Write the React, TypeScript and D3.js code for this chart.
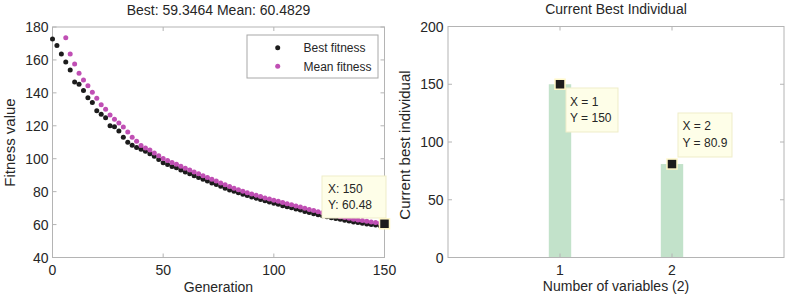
import React from "react";
import * as d3 from "d3";

const bestGenerations = d3.range(0, 151, 2);
const bestFitness = [
  172.7, 168.7, 163.6, 158.7, 153.9, 146.6, 145.2, 141.5, 137.1, 134.2,
  129.2, 127.0, 124.9, 120.0, 119.4, 116.8, 113.0, 110.0, 108.2, 106.8,
  105.8, 104.5, 103.0, 101.5, 99.5, 97.6, 96.5, 95.3, 94.5, 93.2,
  92.0, 90.8, 89.6, 88.6, 87.5, 86.4, 85.3, 84.3, 83.2, 82.1,
  81.0, 80.2, 79.3, 78.4, 77.6, 76.8, 76.0, 75.3, 74.5, 73.7,
  73.0, 72.3, 71.5, 70.8, 70.2, 69.5, 68.8, 67.9, 67.3, 66.6,
  66.0, 65.3, 64.8, 64.2, 63.7, 63.2, 62.6, 62.1, 61.6, 61.2,
  60.8, 60.4, 60.0, 59.7, 59.5, 59.35,
];
const meanGenerations = d3.range(6, 151, 2);
const meanFitness = [
  173.5, 163.6, 157.5, 151.9, 147.8, 144.3, 140.3, 136.7, 132.8, 130.0,
  126.5, 123.9, 121.7, 119.2, 116.2, 113.0, 110.6, 108.1, 106.5, 105.3,
  103.5, 101.8, 100.2, 98.9, 97.7, 96.6, 95.4, 94.2, 93.1, 91.9,
  90.8, 89.7, 88.6, 87.5, 86.4, 85.3, 84.2, 83.1, 82.1, 81.2,
  80.3, 79.4, 78.6, 77.8, 77.0, 76.2, 75.5, 74.8, 74.1, 73.4,
  72.7, 72.0, 71.3, 70.6, 69.9, 69.2, 68.5, 67.8, 67.2, 66.6,
  66.0, 65.4, 64.8, 64.3, 63.8, 63.3, 62.8, 62.4, 62.0, 61.6,
  61.2, 60.8, 60.48,
];
const leftXTicks = [0, 50, 100, 150];
const leftYTicks = [40, 60, 80, 100, 120, 140, 160, 180];
const leftTip = { x: 150, y: 60.48, lines: ["X: 150", "Y: 60.48"] };

const variables = [1, 2];
const individualValues = [150, 80.9];
const individualTips = [
  ["X = 1", "Y = 150"],
  ["X = 2", "Y = 80.9"],
];
const rightXTicks = [1, 2];
const rightYTicks = [0, 50, 100, 150, 200];

const FONT = "'Liberation Sans', Arial, sans-serif";
const AX = "#b4b4b4";
const TXT = "#262626";
const TIPFILL = "#fefee8";
const TIPSTROKE = "#efedc9";
const DOT_R = 2.5;

function Box({ x0, x1, y0, y1 }: { x0: number; x1: number; y0: number; y1: number }) {
  return (
    <rect x={x0} y={y0} width={x1 - x0} height={y1 - y0} fill="none" stroke={AX} strokeWidth={1} />
  );
}

export default function App() {
  const lx = d3.scaleLinear().domain([0, 150]).range([52.5, 384.5]);
  const ly = d3.scaleLinear().domain([40, 180]).range([257.5, 27]);
  const rx = d3.scaleLinear().domain([0, 3]).range([448, 784]);
  const ry = d3.scaleLinear().domain([0, 200]).range([257.5, 26.5]);
  const barW = rx(0.2) - rx(0);
  const tl = 4;

  const tipBoxesRight = [
    { x: 566, y: 88, w: 52, h: 44, tx: 570, ty1: 105.5, ty2: 121.5 },
    { x: 678, y: 113, w: 54, h: 44, tx: 682.5, ty1: 130, ty2: 146.5 },
  ];

  return (
    <svg width={787} height={299} style={{ position: "absolute", left: 0, top: 0, fontFamily: FONT }}>
      <rect width={787} height={299} fill="#fff" />
      {/* LEFT PANEL */}
      <text x={(lx(0) + lx(150)) / 2} y={15} textAnchor="middle" fontSize={14} fill={TXT}>
        Best: 59.3464 Mean: 60.4829
      </text>
      <Box x0={lx(0)} x1={lx(150)} y0={ly(180)} y1={ly(40)} />
      {leftXTicks.map((t) => (
        <g key={"lxt" + t}>
          <line x1={lx(t)} x2={lx(t)} y1={ly(40)} y2={ly(40) - tl} stroke={AX} />
          <line x1={lx(t)} x2={lx(t)} y1={ly(180)} y2={ly(180) + tl} stroke={AX} />
          <text x={lx(t)} y={275} textAnchor="middle" fontSize={14} fill={TXT}>{t}</text>
        </g>
      ))}
      {leftYTicks.map((t) => (
        <g key={"lyt" + t}>
          <line x1={lx(0)} x2={lx(0) + tl} y1={ly(t)} y2={ly(t)} stroke={AX} />
          <line x1={lx(150)} x2={lx(150) - tl} y1={ly(t)} y2={ly(t)} stroke={AX} />
          <text x={48.5} y={ly(t) + 5} textAnchor="end" fontSize={14} fill={TXT}>{t}</text>
        </g>
      ))}
      <text x={lx(75)} y={292} textAnchor="middle" fontSize={14} fill={TXT}>Generation</text>
      <text
        transform={`translate(9,142.5) rotate(-90)`}
        textAnchor="middle"
        dominantBaseline="central"
        fontSize={15}
        fill={TXT}
      >
        Fitness value
      </text>
      {bestGenerations.map((g, i) => (
        <circle key={"b" + g} cx={lx(g)} cy={ly(bestFitness[i])} r={DOT_R} fill="#1c1c1c" />
      ))}
      {meanGenerations.map((g, i) => (
        <circle key={"m" + g} cx={lx(g)} cy={ly(meanFitness[i])} r={DOT_R} fill="#c04fb4" />
      ))}
      {/* legend */}
      <rect x={247} y={35} width={131} height={43} fill="#fff" stroke="#a8a8a8" />
      <circle cx={277.7} cy={47.7} r={DOT_R} fill="#1c1c1c" />
      <circle cx={277.7} cy={66.3} r={DOT_R} fill="#c04fb4" />
      <text x={303.5} y={52} fontSize={12} fill={TXT}>Best fitness</text>
      <text x={303.5} y={70.5} fontSize={12} fill={TXT}>Mean fitness</text>
      {/* datatip */}
      <rect x={322} y={176} width={64} height={42} fill={TIPFILL} stroke={TIPSTROKE} />
      <text x={328} y={192.5} fontSize={12} fill={TXT}>{leftTip.lines[0]}</text>
      <text x={328} y={208.5} fontSize={12} fill={TXT}>{leftTip.lines[1]}</text>
      <rect x={lx(leftTip.x) - 5} y={ly(leftTip.y) - 5} width={10} height={10} fill="#1c1c1c" stroke="#fff8c8" strokeWidth={1.5} />

      {/* RIGHT PANEL */}
      <text x={(rx(0) + rx(3)) / 2} y={14} textAnchor="middle" fontSize={14} fill={TXT}>
        Current Best Individual
      </text>
      {variables.map((v, i) => (
        <rect
          key={"bar" + v}
          x={rx(v) - barW / 2}
          y={ry(individualValues[i])}
          width={barW}
          height={ry(0) - ry(individualValues[i])}
          fill="#c2e2ca"
        />
      ))}
      <Box x0={rx(0)} x1={rx(3)} y0={ry(200)} y1={ry(0)} />
      {rightXTicks.map((t) => (
        <g key={"rxt" + t}>
          <line x1={rx(t)} x2={rx(t)} y1={ry(0)} y2={ry(0) - tl} stroke={AX} />
          <line x1={rx(t)} x2={rx(t)} y1={ry(200)} y2={ry(200) + tl} stroke={AX} />
          <text x={rx(t)} y={274.5} textAnchor="middle" fontSize={14} fill={TXT}>{t}</text>
        </g>
      ))}
      {rightYTicks.map((t) => (
        <g key={"ryt" + t}>
          <line x1={rx(0)} x2={rx(0) + tl} y1={ry(t)} y2={ry(t)} stroke={AX} />
          <line x1={rx(3)} x2={rx(3) - tl} y1={ry(t)} y2={ry(t)} stroke={AX} />
          <text x={443.5} y={ry(t) + 5} textAnchor="end" fontSize={14} fill={TXT}>{t}</text>
        </g>
      ))}
      <text x={rx(1.5)} y={291} textAnchor="middle" fontSize={14} fill={TXT}>Number of variables (2)</text>
      <text
        transform={`translate(404,145) rotate(-90)`}
        textAnchor="middle"
        dominantBaseline="central"
        fontSize={15}
        fill={TXT}
      >
        Current best individual
      </text>
      {variables.map((v, i) => {
        const b = tipBoxesRight[i];
        return (
          <g key={"tip" + v}>
            <rect x={b.x} y={b.y} width={b.w} height={b.h} fill={TIPFILL} stroke={TIPSTROKE} />
            <text x={b.tx} y={b.ty1} fontSize={12} fill={TXT}>{individualTips[i][0]}</text>
            <text x={b.tx} y={b.ty2} fontSize={12} fill={TXT}>{individualTips[i][1]}</text>
            <rect x={rx(v) - 5} y={ry(individualValues[i]) - 5} width={10} height={10} fill="#1c1c1c" stroke="#fff8c8" strokeWidth={1.5} />
          </g>
        );
      })}
    </svg>
  );
}
